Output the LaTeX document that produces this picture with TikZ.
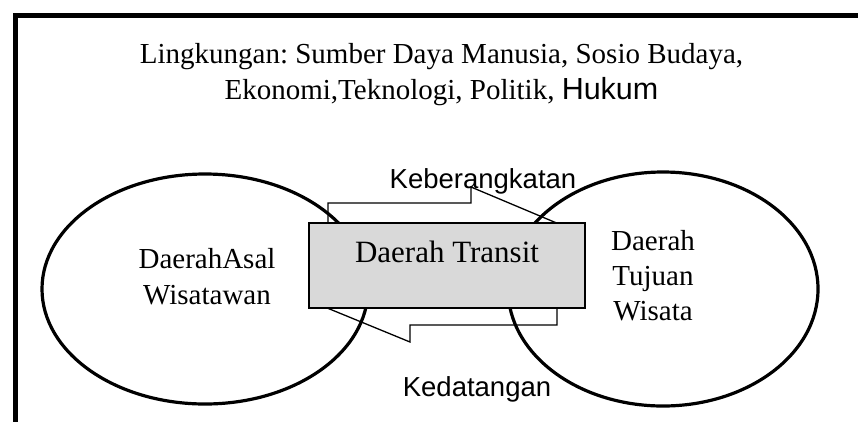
\documentclass[tikz,border=0pt]{standalone}
\usepackage{fontspec}
\setmainfont{Liberation Serif}
\newfontfamily\arialf{Liberation Sans}
\usetikzlibrary{shapes.geometric}
\definecolor{boxgray}{RGB}{217,217,217}
\frenchspacing
\tikzset{
  frameline/.style={line width=5pt},
  region/.style={ellipse, draw, line width=3.2pt, inner sep=0pt},
  flow/.style={draw, line width=1.3pt, line join=miter},
  transitbox/.style={rectangle, draw, line width=2pt, fill=boxgray, inner sep=0pt},
  serif/.style={font=\fontsize{29}{35}\selectfont, inner sep=0pt, anchor=base},
  sanslbl/.style={font=\arialf\fontsize{27.5}{33}\selectfont, inner sep=0pt, anchor=base}
}
\begin{document}
\begin{tikzpicture}[x=1pt,y=-1pt]
\useasboundingbox (0,0) rectangle (858,421);
\begin{scope}
\clip (0,0) rectangle (858,421);
\draw[frameline] (870,15.8) -- (15.8,15.8) -- (15.8,430);
\end{scope}
% title
\node[serif] (t1) at (441.5,63) {Lingkungan: Sumber Daya Manusia, Sosio Budaya,};
\node[serif] (t2) at (441.5,99) {Ekonomi,Teknologi, Politik, {\arialf\fontsize{30.5}{36}\selectfont Hukum}};
% ellipses
\node[region, minimum width=326pt, minimum height=230pt] (asal) at (205,289) {};
\node[region, minimum width=310pt, minimum height=234pt] (tujuan) at (663,289) {};
% flow arrows
\draw[flow] (328,203) -- (471,203) -- (471,187) -- (578,232) -- (471,277) -- (471,261) -- (328,261) -- cycle;
\draw[flow] (557,325) -- (410,325) -- (410,342) -- (315,303) -- (410,264) -- (410,281) -- (557,281) -- cycle;
% transit box
\node[transitbox, minimum width=276pt, minimum height=85pt] (transit) at (447,265.5) {};
\node[serif, font=\fontsize{31}{37}\selectfont] (transitlbl) at (447,262) {Daerah Transit};
% ellipse texts
\node[serif] (a1) at (207,268) {DaerahAsal};
\node[serif] (a2) at (207,304) {Wisatawan};
\node[serif] (b1) at (653,250) {Daerah};
\node[serif] (b2) at (653,285) {Tujuan};
\node[serif] (b3) at (653,320) {Wisata};
% labels
\node[sanslbl] (keb) at (483,188) {Keberangkatan};
\node[sanslbl] (ked) at (477,396) {Kedatangan};
\end{tikzpicture}
\end{document}
